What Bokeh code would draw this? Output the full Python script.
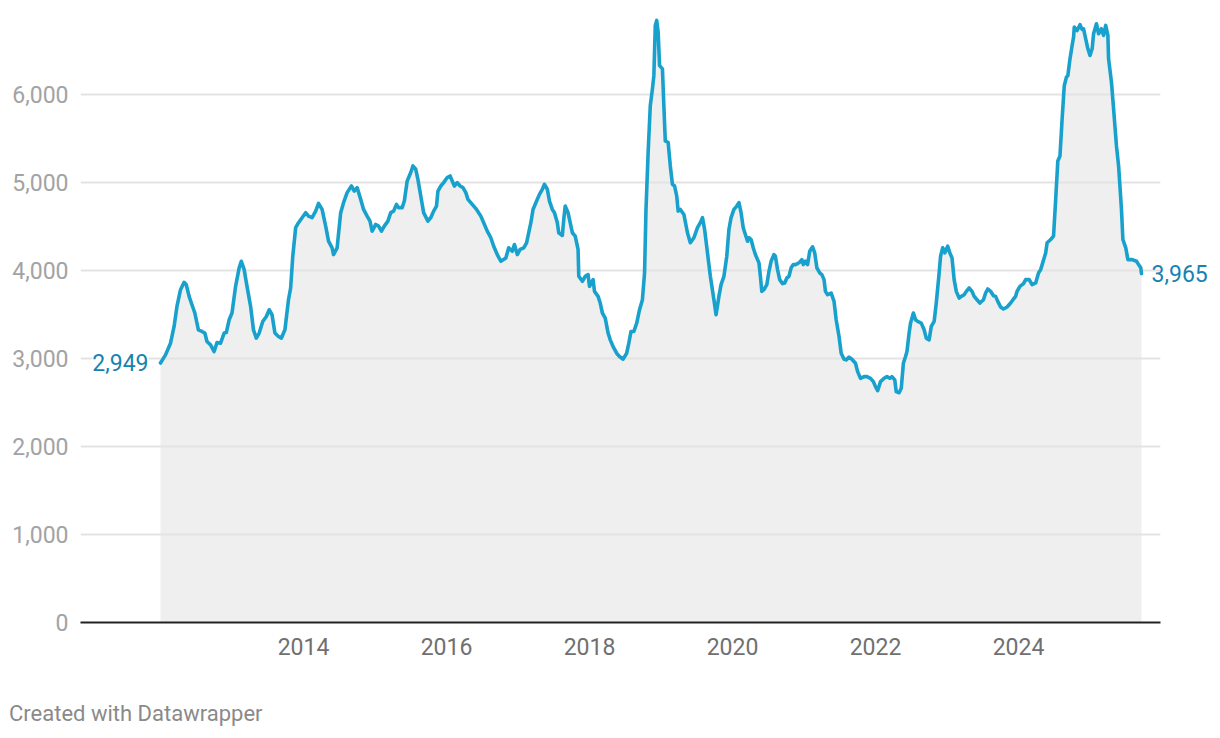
from bokeh.plotting import figure
from bokeh.models import (Range1d, FixedTicker, NumeralTickFormatter, CustomJSTickFormatter,
                          Label, ColumnDataSource, LinearAxis, Div)
from bokeh.layouts import column
from bokeh.embed import file_html
from bokeh.resources import INLINE

# ---- data (decimal year, value) ----
dates = [
    2012.00, 2012.07, 2012.14, 2012.19, 2012.23, 2012.28, 2012.33, 2012.36, 2012.40, 2012.44,
    2012.48, 2012.53, 2012.58, 2012.62, 2012.65, 2012.70, 2012.75, 2012.79, 2012.84, 2012.89,
    2012.92, 2012.96, 2013.00, 2013.05, 2013.10, 2013.13, 2013.17, 2013.21, 2013.26, 2013.30,
    2013.34, 2013.38, 2013.43, 2013.48, 2013.52, 2013.56, 2013.60, 2013.65, 2013.69, 2013.74,
    2013.79, 2013.82, 2013.85, 2013.89, 2013.93, 2013.98, 2014.03, 2014.07, 2014.12, 2014.17,
    2014.21, 2014.26, 2014.31, 2014.35, 2014.40, 2014.42, 2014.47, 2014.52, 2014.56, 2014.61,
    2014.67, 2014.71, 2014.75, 2014.80, 2014.84, 2014.89, 2014.93, 2014.96, 2015.01, 2015.05,
    2015.09, 2015.13, 2015.18, 2015.22, 2015.26, 2015.30, 2015.33, 2015.38, 2015.41, 2015.45,
    2015.50, 2015.53, 2015.57, 2015.60, 2015.64, 2015.68, 2015.74, 2015.78, 2015.82, 2015.86,
    2015.88, 2015.92, 2015.96, 2016.01, 2016.05, 2016.08, 2016.11, 2016.15, 2016.19, 2016.23,
    2016.27, 2016.30, 2016.36, 2016.42, 2016.48, 2016.52, 2016.57, 2016.62, 2016.66, 2016.71,
    2016.76, 2016.83, 2016.87, 2016.92, 2016.95, 2016.99, 2017.03, 2017.08, 2017.12, 2017.15,
    2017.18, 2017.21, 2017.26, 2017.30, 2017.34, 2017.37, 2017.41, 2017.44, 2017.48, 2017.51,
    2017.55, 2017.57, 2017.62, 2017.64, 2017.66, 2017.70, 2017.73, 2017.76, 2017.80, 2017.84,
    2017.85, 2017.90, 2017.94, 2017.98, 2018.00, 2018.05, 2018.07, 2018.12, 2018.15, 2018.18,
    2018.22, 2018.26, 2018.29, 2018.33, 2018.38, 2018.42, 2018.47, 2018.52, 2018.55, 2018.58,
    2018.62, 2018.66, 2018.70, 2018.74, 2018.77, 2018.79, 2018.82, 2018.85, 2018.88, 2018.90,
    2018.92, 2018.94, 2018.96, 2018.98, 2019.02, 2019.04, 2019.06, 2019.10, 2019.13, 2019.16,
    2019.19, 2019.22, 2019.24, 2019.27, 2019.32, 2019.37, 2019.41, 2019.46, 2019.51, 2019.55,
    2019.58, 2019.61, 2019.65, 2019.69, 2019.74, 2019.77, 2019.81, 2019.84, 2019.88, 2019.92,
    2019.95, 2019.98, 2020.02, 2020.06, 2020.09, 2020.12, 2020.15, 2020.18, 2020.21, 2020.23,
    2020.26, 2020.29, 2020.32, 2020.37, 2020.39, 2020.41, 2020.44, 2020.48, 2020.51, 2020.54,
    2020.58, 2020.60, 2020.63, 2020.66, 2020.70, 2020.73, 2020.76, 2020.79, 2020.82, 2020.85,
    2020.88, 2020.91, 2020.94, 2020.97, 2020.99, 2021.02, 2021.05, 2021.08, 2021.12, 2021.15,
    2021.18, 2021.22, 2021.25, 2021.28, 2021.30, 2021.33, 2021.38, 2021.42, 2021.45, 2021.49,
    2021.52, 2021.56, 2021.59, 2021.63, 2021.67, 2021.72, 2021.75, 2021.79, 2021.84, 2021.88,
    2021.93, 2021.97, 2022.00, 2022.03, 2022.07, 2022.12, 2022.16, 2022.20, 2022.23, 2022.27,
    2022.29, 2022.33, 2022.36, 2022.39, 2022.42, 2022.44, 2022.47, 2022.49, 2022.53, 2022.56,
    2022.59, 2022.64, 2022.68, 2022.71, 2022.75, 2022.78, 2022.82, 2022.85, 2022.89, 2022.91,
    2022.94, 2022.97, 2022.99, 2023.01, 2023.04, 2023.07, 2023.10, 2023.13, 2023.17, 2023.20,
    2023.24, 2023.27, 2023.31, 2023.35, 2023.38, 2023.42, 2023.46, 2023.51, 2023.54, 2023.57,
    2023.61, 2023.65, 2023.68, 2023.71, 2023.75, 2023.79, 2023.84, 2023.89, 2023.93, 2023.96,
    2023.98, 2024.02, 2024.07, 2024.10, 2024.15, 2024.19, 2024.24, 2024.28, 2024.31, 2024.38,
    2024.40, 2024.45, 2024.49, 2024.52, 2024.55, 2024.58, 2024.61, 2024.64, 2024.67, 2024.69,
    2024.72, 2024.75, 2024.77, 2024.78, 2024.82, 2024.86, 2024.89, 2024.91, 2024.94, 2024.97,
    2025.00, 2025.03, 2025.05, 2025.09, 2025.12, 2025.16, 2025.19, 2025.22, 2025.25, 2025.26,
    2025.30, 2025.33, 2025.37, 2025.40, 2025.44, 2025.46, 2025.50, 2025.53, 2025.59, 2025.65,
    2025.68, 2025.71, 2025.72,
]
values = [
    2949, 3041, 3174, 3364, 3592, 3782, 3866, 3839, 3706, 3611,
    3517, 3326, 3307, 3289, 3193, 3155, 3079, 3181, 3174, 3289,
    3295, 3440, 3517, 3820, 4030, 4105, 4010, 3820, 3592, 3326,
    3231, 3289, 3421, 3478, 3554, 3497, 3289, 3250, 3231, 3326,
    3668, 3801, 4162, 4486, 4543, 4600, 4657, 4618, 4600, 4675,
    4763, 4694, 4504, 4333, 4258, 4181, 4258, 4657, 4771, 4885,
    4960, 4903, 4942, 4808, 4694, 4618, 4561, 4447, 4523, 4504,
    4447, 4504, 4561, 4657, 4675, 4751, 4714, 4714, 4789, 5017,
    5113, 5188, 5150, 5036, 4846, 4657, 4561, 4600, 4675, 4732,
    4903, 4960, 4999, 5056, 5074, 5017, 4960, 4999, 4960, 4942,
    4885, 4808, 4751, 4694, 4618, 4543, 4447, 4372, 4276, 4181,
    4105, 4143, 4258, 4219, 4295, 4181, 4239, 4258, 4315, 4429,
    4543, 4694, 4789, 4865, 4923, 4979, 4923, 4789, 4694, 4657,
    4543, 4429, 4398, 4580, 4732, 4657, 4543, 4429, 4390, 4239,
    3934, 3877, 3934, 3953, 3820, 3896, 3763, 3706, 3630, 3517,
    3459, 3289, 3212, 3136, 3060, 3022, 2992, 3060, 3174, 3307,
    3307, 3402, 3554, 3668, 3972, 4694, 5341, 5872, 6063, 6214,
    6785, 6842, 6709, 6328, 6291, 5872, 5473, 5455, 5188, 4979,
    4960, 4846, 4675, 4694, 4637, 4429, 4315, 4372, 4486, 4543,
    4600, 4466, 4200, 3934, 3668, 3497, 3706, 3839, 3934, 4162,
    4466, 4600, 4694, 4732, 4771, 4657, 4486, 4409, 4333, 4372,
    4352, 4258, 4181, 4087, 3934, 3763, 3782, 3839, 3991, 4105,
    4181, 4162, 4010, 3896, 3851, 3858, 3915, 3934, 4030, 4067,
    4067, 4079, 4094, 4124, 4067, 4105, 4067, 4219, 4269, 4200,
    4030, 3972, 3953, 3896, 3763, 3725, 3744, 3649, 3440, 3250,
    3060, 2992, 2984, 3015, 2992, 2946, 2851, 2775, 2794, 2794,
    2775, 2737, 2680, 2634, 2737, 2775, 2794, 2775, 2794, 2756,
    2623, 2611, 2661, 2946, 3022, 3079, 3289, 3402, 3517, 3440,
    3421, 3402, 3326, 3231, 3212, 3364, 3421, 3630, 3972, 4162,
    4258, 4200, 4239, 4276, 4200, 4143, 3896, 3763, 3687, 3706,
    3725, 3763, 3801, 3763, 3706, 3668, 3630, 3668, 3744, 3790,
    3763, 3713, 3706, 3649, 3585, 3562, 3585, 3630, 3676, 3706,
    3763, 3820, 3851, 3896, 3896, 3839, 3858, 3972, 4010, 4200,
    4315, 4352, 4390, 4808, 5245, 5302, 5721, 6100, 6196, 6214,
    6405, 6557, 6652, 6766, 6727, 6793, 6739, 6747, 6633, 6519,
    6443, 6519, 6690, 6804, 6690, 6747, 6671, 6785, 6671, 6405,
    6139, 5835, 5416, 5188, 4694, 4352, 4258, 4124, 4124, 4105,
    4067, 4030, 3965,
]
x_ticks = [2014, 2016, 2018, 2020, 2022, 2024]
y_ticks = [0, 1000, 2000, 3000, 4000, 5000, 6000]
footer_text = "Created with Datawrapper"

LINE = "#18a1cd"
LABEL_BLUE = "#1783b0"
FONT = "Roboto"

W, H = 1220, 690
p = figure(width=W, height=H, output_backend="svg", toolbar_location=None,
           x_range=Range1d(2010.881, 2025.986), y_range=Range1d(0, 6909),
           min_border_left=80, min_border_right=60, min_border_top=14, min_border_bottom=68)
p.outline_line_color = None
p.background_fill_color = "white"
p.border_fill_color = "white"

src = ColumnDataSource(dict(x=dates, y=values, y0=[0] * len(values)))
p.varea(x="x", y1="y0", y2="y", source=src, fill_color="#efefef", level="image")
p.line(x="x", y="y", source=src, line_color=LINE, line_width=3.6, line_join="round", line_cap="round")

# axes
p.xaxis.ticker = FixedTicker(ticks=x_ticks)
p.xaxis.formatter = CustomJSTickFormatter(code="return tick.toFixed(0);")
p.xaxis.major_tick_line_color = None
p.xaxis.minor_tick_line_color = None
p.xaxis.axis_line_color = "#222222"
p.xaxis.axis_line_width = 2
p.xaxis.major_label_standoff = 9
p.xaxis.major_label_text_font = FONT
p.xaxis.major_label_text_font_size = "23px"
p.xaxis.major_label_text_color = "#707070"

p.yaxis.ticker = FixedTicker(ticks=y_ticks)
p.yaxis.formatter = NumeralTickFormatter(format="0,0")
p.yaxis.major_tick_line_color = None
p.yaxis.minor_tick_line_color = None
p.yaxis.axis_line_color = None
p.yaxis.major_label_standoff = 6
p.yaxis.major_label_text_font = FONT
p.yaxis.major_label_text_font_size = "23px"
p.yaxis.major_label_text_color = "#a3a3a3"

p.xgrid.grid_line_color = None
p.ygrid.ticker = FixedTicker(ticks=y_ticks)
p.ygrid.grid_line_color = "#e3e3e3"
p.ygrid.grid_line_width = 2

# start label (inside the frame)
p.add_layout(Label(x=dates[0], y=values[0], text=f"{values[0]:,}", x_offset=-12,
                   text_align="right", text_baseline="middle", text_font=FONT,
                   text_font_size="23px", text_color=LABEL_BLUE,
                   background_fill_color="white"))

# end label: a right-side axis carrying only the last value
end_axis = LinearAxis(ticker=FixedTicker(ticks=[values[-1]]),
                      formatter=NumeralTickFormatter(format="0,0"))
end_axis.axis_line_color = None
end_axis.major_tick_line_color = None
end_axis.minor_tick_line_color = None
end_axis.major_label_standoff = -15
end_axis.major_label_text_font = FONT
end_axis.major_label_text_font_size = "23px"
end_axis.major_label_text_color = LABEL_BLUE
p.add_layout(end_axis, "right")

# footer
footer = Div(text=footer_text, width=400, height=26, margin=(13, 0, 0, 9),
             styles={"font-family": FONT, "font-size": "22px", "color": "#8a8a8a",
                     "line-height": "22px", "white-space": "nowrap"})

layout = column(p, footer, spacing=0)
open("out.html", "w").write(file_html(layout, INLINE))
